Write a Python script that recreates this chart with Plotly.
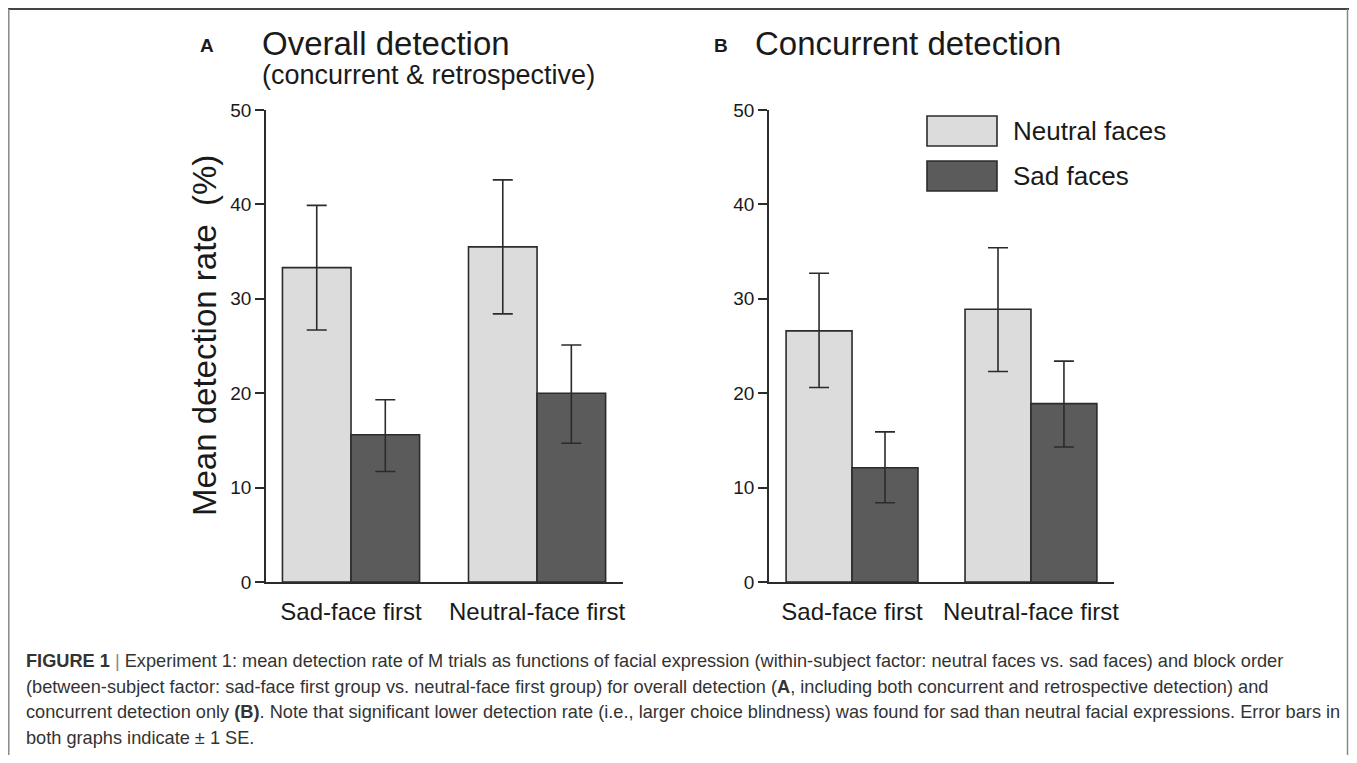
import plotly.graph_objects as go

# page has an 8px body margin, so the figure is drawn 8px in from the top-left
OFF = 8
W, H = 1341, 747

groups = ["Sad-face first", "Neutral-face first"]
series = ["Neutral faces", "Sad faces"]

# Panel A: overall detection
a_neutral = [33.3, 35.5]
a_neutral_lo = [26.7, 28.4]
a_neutral_hi = [39.9, 42.6]
a_sad = [15.6, 20.0]
a_sad_lo = [11.7, 14.7]
a_sad_hi = [19.3, 25.1]

# Panel B: concurrent detection
b_neutral = [26.6, 28.9]
b_neutral_lo = [20.6, 22.3]
b_neutral_hi = [32.7, 35.4]
b_sad = [12.1, 18.9]
b_sad_lo = [8.4, 14.3]
b_sad_hi = [15.9, 23.4]

y_ticks = [0, 10, 20, 30, 40, 50]

FONT = "Liberation Sans, Arial, Helvetica, sans-serif"
INK = "#2b2b2b"
C_NEU = "#dcdcdc"
C_SAD = "#5b5b5b"


def px(x):
    return (x - OFF) / W


def py(y):
    return 1 - (y - OFF) / H


def err(vals, lo, hi, color):
    return dict(type="data", symmetric=False,
                array=[h - v for v, h in zip(vals, hi)],
                arrayminus=[v - l for v, l in zip(vals, lo)],
                color=color, thickness=1.6, width=10)


fig = go.Figure()
xs = [0, 1]
for (neu, nlo, nhi, sad, slo, shi, xa, ya) in [
    (a_neutral, a_neutral_lo, a_neutral_hi, a_sad, a_sad_lo, a_sad_hi, "x", "y"),
    (b_neutral, b_neutral_lo, b_neutral_hi, b_sad, b_sad_lo, b_sad_hi, "x2", "y2"),
]:
    fig.add_trace(go.Bar(x=xs, y=neu, name=series[0], marker=dict(color=C_NEU, line=dict(color=INK, width=1.6)),
                         error_y=err(neu, nlo, nhi, INK), xaxis=xa, yaxis=ya, showlegend=False,
                         offsetgroup="n"))
    fig.add_trace(go.Bar(x=xs, y=sad, name=series[1], marker=dict(color=C_SAD, line=dict(color=INK, width=1.6)),
                         error_y=err(sad, slo, shi, INK), xaxis=xa, yaxis=ya, showlegend=False,
                         offsetgroup="s"))

ydom = [py(582), py(110)]
xaxis_common = dict(tickvals=xs, ticktext=groups, showline=True, linecolor=INK, linewidth=1.6,
                    ticks="", showgrid=False, zeroline=False, ticklabelstandoff=7,
                    tickfont=dict(family=FONT, size=24, color="#1a1a1a"), fixedrange=True)
yaxis_common = dict(range=[0, 50], tickvals=y_ticks, showline=True, linecolor=INK, linewidth=1.6,
                    ticks="outside", ticklen=9, tickwidth=1.6, tickcolor=INK, showgrid=False,
                    zeroline=False, tickfont=dict(family=FONT, size=19, color="#1a1a1a"),
                    domain=ydom, fixedrange=True)

fig.update_layout(
    width=W, height=H, margin=dict(l=0, r=0, t=0, b=0, autoexpand=False),
    paper_bgcolor="white", plot_bgcolor="white",
    barmode="group", bargap=0.263, bargroupgap=0,
    font=dict(family=FONT, color="#1a1a1a"),
    xaxis=dict(domain=[px(266), px(623)], range=[-0.457, 1.462], anchor="y", **xaxis_common),
    yaxis=dict(anchor="x", **yaxis_common),
    xaxis2=dict(domain=[px(769), px(1114)], range=[-0.464, 1.464], anchor="y2", **xaxis_common),
    yaxis2=dict(anchor="x2", **yaxis_common),
)

ann = []
# panel labels and titles
ann.append(dict(text="<b>A</b>", x=px(198), y=py(46), xanchor="left", yanchor="middle", font=dict(size=19)))
ann.append(dict(text="Overall detection", x=px(260), y=py(43), xanchor="left", yanchor="middle", font=dict(size=33)))
ann.append(dict(text="(concurrent &amp; retrospective)", x=px(260), y=py(75), xanchor="left", yanchor="middle", font=dict(size=27)))
ann.append(dict(text="<b>B</b>", x=px(712), y=py(46), xanchor="left", yanchor="middle", font=dict(size=19)))
ann.append(dict(text="Concurrent detection", x=px(753), y=py(43), xanchor="left", yanchor="middle", font=dict(size=33)))
# y axis title
ann.append(dict(text="Mean detection rate  (%)", x=px(204), y=py(336), xanchor="center", yanchor="middle",
                textangle=-90, font=dict(size=33)))
# legend
for i, (lab, col) in enumerate(zip(series, [C_NEU, C_SAD])):
    yc = 131 + 45 * i
    fig.add_shape(type="rect", xref="paper", yref="paper", x0=px(927), x1=px(997), y0=py(yc + 15), y1=py(yc - 15),
                  fillcolor=col, line=dict(color=INK, width=1.6))
    ann.append(dict(text=lab, x=px(1011), y=py(yc), xanchor="left", yanchor="middle", font=dict(size=26)))

# caption
cap = [
    "<b>FIGURE 1</b> <span style='color:#888'>|</span> Experiment 1: mean detection rate of M trials as functions of facial expression (within-subject factor: neutral faces vs. sad faces) and block order",
    "(between-subject factor: sad-face first group vs. neutral-face first group) for overall detection (<b>A</b>, including both concurrent and retrospective detection) and",
    "concurrent detection only <b>(B)</b>. Note that significant lower detection rate (i.e., larger choice blindness) was found for sad than neutral facial expressions. Error bars in",
    "both graphs indicate ± 1 SE.",
]
for i, line in enumerate(cap):
    ann.append(dict(text=line, x=px(24), y=py(661 + 25.5 * i), xanchor="left", yanchor="middle",
                    font=dict(size=18.2, color="#333333")))

for a in ann:
    a.update(xref="paper", yref="paper", showarrow=False)
    a.setdefault("font", {})
    a["font"].setdefault("family", FONT)
    a["font"].setdefault("color", "#1a1a1a")
fig.update_layout(annotations=ann)

# frame
fig.add_shape(type="line", xref="paper", yref="paper", x0=px(8), x1=px(1349), y0=py(9), y1=py(9),
              line=dict(color="#444444", width=2))
for xv in (8.8, 1347.5):
    fig.add_shape(type="line", xref="paper", yref="paper", x0=px(xv), x1=px(xv), y0=py(9), y1=py(770),
                  line=dict(color="#888888", width=1.5))

fig.write_html("out.html", config=dict(displayModeBar=False))
